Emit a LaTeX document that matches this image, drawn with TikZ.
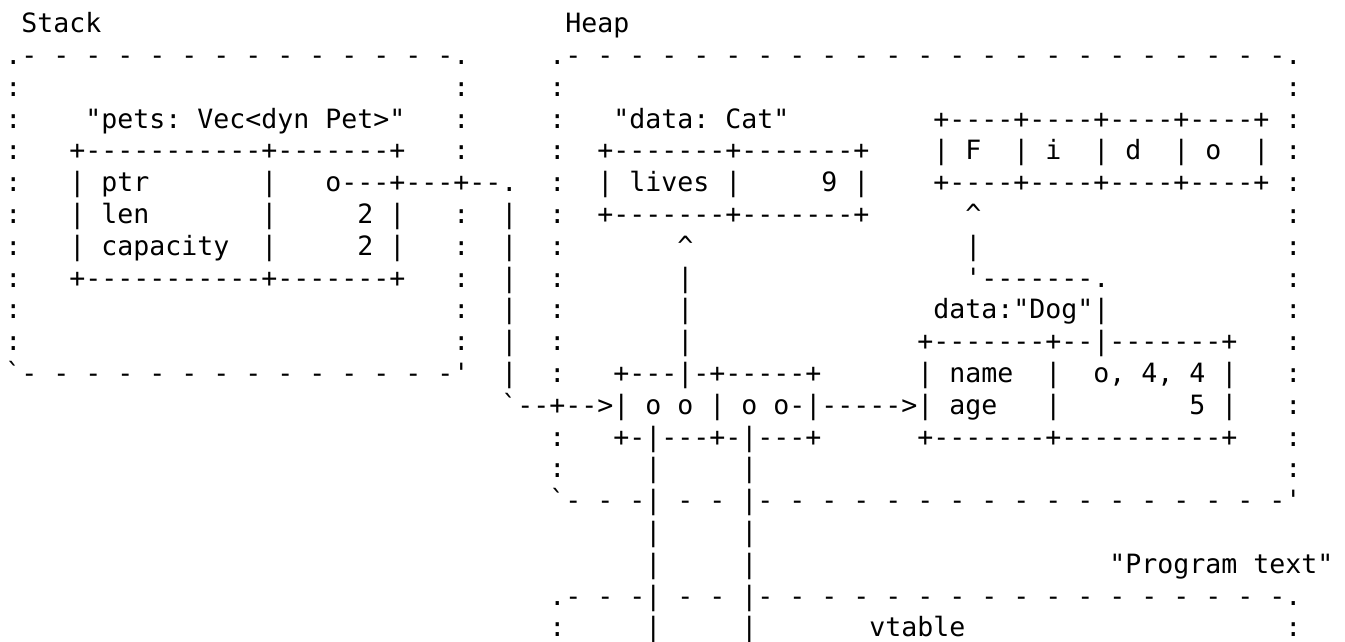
\documentclass[tikz,border=0pt]{standalone}
\usepackage{fontspec}
\newfontfamily\diagmono{DejaVu Sans Mono}
\newcommand\diagfont{\diagmono\fontsize{26.58pt}{31.8pt}\selectfont\frenchspacing}
\ExplSyntaxOn
\cs_new_protected:Npn \sk #1 { \prg_replicate:nn {#1} { \ } }
\cs_new_protected:Npn \dsh #1 { \prg_replicate:nn {#1} { \ - } }
\ExplSyntaxOff
\tikzset{
  asciirow/.style={anchor=base west, inner sep=0pt, outer sep=0pt, font=\diagfont}
}
\begin{document}
\begin{tikzpicture}[x=1pt, y=-1pt]
  \useasboundingbox (0,0) rectangle (1345,642);
  
  %%%%% stack and heap %%%%%
  \node[asciirow] (ln0) at (5.3, 32.7) {\sk{1}Stack\sk{29}Heap};
  \node[asciirow] (ln1) at (5.3, 64.5) {.-\dsh{13}.\sk{5}.-\dsh{22}.};
  \node[asciirow] (ln2) at (5.3, 96.3) {:\sk{27}:\sk{5}:\sk{45}:};
  \node[asciirow] (ln3) at (5.3, 128.1) {:\sk{4}"pets: Vec<dyn Pet>"\sk{3}:\sk{5}:\sk{3}"data: Cat"\sk{9}+----+----+----+----+ :};
  \node[asciirow] (ln4) at (5.3, 159.9) {:\sk{3}+-----------+-------+\sk{3}:\sk{5}:\sk{2}+-------+-------+\sk{4}| F\sk{2}| i\sk{2}| d\sk{2}| o\sk{2}| :};
  \node[asciirow] (ln5) at (5.3, 191.7) {:\sk{3}| ptr\sk{7}|\sk{3}o---+---+--.\sk{2}:\sk{2}| lives |\sk{5}9 |\sk{4}+----+----+----+----+ :};
  \node[asciirow] (ln6) at (5.3, 223.5) {:\sk{3}| len\sk{7}|\sk{5}2 |\sk{3}:\sk{2}|\sk{2}:\sk{2}+-------+-------+\sk{6}\textasciicircum\sk{19}:};
  \node[asciirow] (ln7) at (5.3, 255.3) {:\sk{3}| capacity\sk{2}|\sk{5}2 |\sk{3}:\sk{2}|\sk{2}:\sk{7}\textasciicircum\sk{17}|\sk{19}:};
  \node[asciirow] (ln8) at (5.3, 287.1) {:\sk{3}+-----------+-------+\sk{3}:\sk{2}|\sk{2}:\sk{7}|\sk{17}'-------.\sk{11}:};
  \node[asciirow] (ln9) at (5.3, 318.9) {:\sk{27}:\sk{2}|\sk{2}:\sk{7}|\sk{15}data:"Dog"|\sk{11}:};
  \node[asciirow] (ln10) at (5.3, 350.7) {:\sk{27}:\sk{2}|\sk{2}:\sk{7}|\sk{14}+-------+--|-------+\sk{3}:};
  \node[asciirow] (ln11) at (5.3, 382.5) {`-\dsh{13}'\sk{2}|\sk{2}:\sk{3}+---|-+-----+\sk{6}| name\sk{2}|\sk{2}o, 4, 4 |\sk{3}:};
  \node[asciirow] (ln12) at (5.3, 414.3) {\sk{31}`--+-->| o o | o o-|----->| age\sk{3}|\sk{8}5 |\sk{3}:};
  \node[asciirow] (ln13) at (5.3, 446.1) {\sk{34}:\sk{3}+-|---+-|---+\sk{6}+-------+----------+\sk{3}:};
  \node[asciirow] (ln14) at (5.3, 477.9) {\sk{34}:\sk{5}|\sk{5}|\sk{33}:};
  \node[asciirow] (ln15) at (5.3, 509.7) {\sk{34}`- - -| - - |-\dsh{16}'};
  
  %%%%% program text %%%%%
  \node[asciirow] (ln16) at (5.3, 541.5) {\sk{40}|\sk{5}|};
  \node[asciirow] (ln17) at (5.3, 573.3) {\sk{40}|\sk{5}|\sk{22}"Program text"};
  \node[asciirow] (ln18) at (5.3, 605.1) {\sk{34}.- - -| - - |-\dsh{16}.};
  \node[asciirow] (ln19) at (5.3, 636.9) {\sk{34}:\sk{5}|\sk{5}|\sk{7}vtable\sk{20}:};
\end{tikzpicture}
\end{document}
